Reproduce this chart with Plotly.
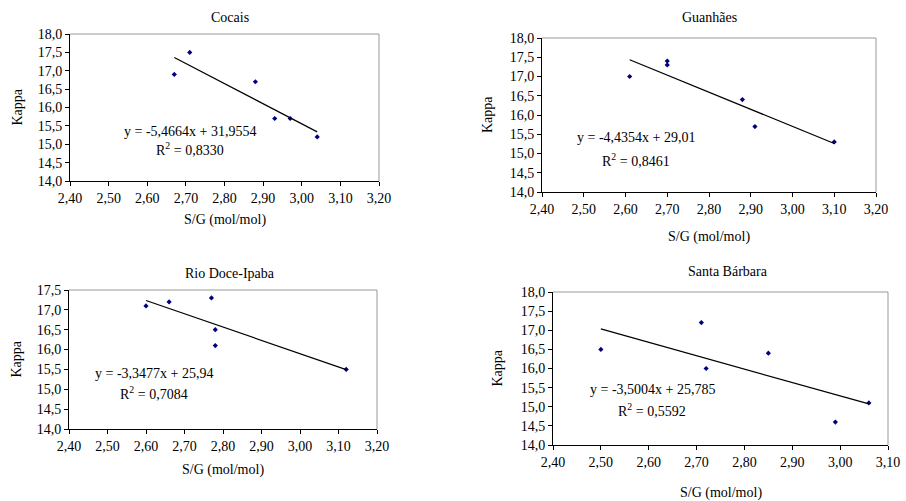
import plotly.graph_objects as go

# S/G ratio (mol/mol) and kappa number per site
cocais_sg = [2.67, 2.71, 2.88, 2.93, 2.97, 3.04]
cocais_kappa = [16.9, 17.5, 16.7, 15.7, 15.7, 15.2]

guanhaes_sg = [2.61, 2.70, 2.70, 2.88, 2.91, 3.10]
guanhaes_kappa = [17.0, 17.4, 17.3, 16.4, 15.7, 15.3]

riodoce_sg = [2.60, 2.66, 2.77, 2.78, 2.78, 3.12]
riodoce_kappa = [17.1, 17.2, 17.3, 16.5, 16.1, 15.5]

santa_sg = [2.50, 2.71, 2.72, 2.85, 2.99, 3.06]
santa_kappa = [16.5, 17.2, 16.0, 16.4, 14.6, 15.1]

site_names = ["Cocais", "Guanhães", "Rio Doce-Ipaba", "Santa Bárbara"]

# linear trend coefficients (slope, intercept) and R²
slopes = [-5.4664, -4.4354, -3.3477, -3.5004]
intercepts = [31.9554, 29.01, 25.94, 25.785]
r_squared = ["0,8330", "0,8461", "0,7084", "0,5592"]
slope_txt = ["-5,4664", "-4,4354", "-3,3477", "-3,5004"]
intercept_txt = ["31,9554", "29,01", "25,94", "25,785"]

x_ranges = [[2.40, 3.20], [2.40, 3.20], [2.40, 3.20], [2.40, 3.10]]
y_ranges = [[14.0, 18.0], [14.0, 18.0], [14.0, 17.5], [14.0, 18.0]]

sg_sets = [cocais_sg, guanhaes_sg, riodoce_sg, santa_sg]
kappa_sets = [cocais_kappa, guanhaes_kappa, riodoce_kappa, santa_kappa]

W, H = 906, 501
# panel boxes in pixels: left, right, top, bottom
boxes = [(70, 379, 34, 181), (542, 876, 38, 192), (69, 377, 290, 429), (553, 888, 292, 445)]
# text anchor positions in pixels
title_pos = [(230, 17), (709, 18), (230, 273), (728, 271)]
xtitle_y = [220, 237, 470, 493]
ytitle_x = [17, 488, 16, 497]
eq_pos = [(190, 131, 149), (636, 138, 160), (154, 373, 393), (652, 389, 410)]

FONT = "Liberation Serif, Times New Roman, serif"
TXT = dict(family=FONT, size=14, color="black")
fig = go.Figure()
annotations = []
shapes = []

def px_x(v):
    return v / W

def px_y(v):
    return 1 - v / H

def label(text, x, y, angle=0):
    annotations.append(dict(text=text, x=px_x(x), y=px_y(y), xref="paper", yref="paper",
                            xanchor="center", yanchor="middle", textangle=angle,
                            showarrow=False, font=TXT))

for i in range(4):
    xa = "x" if i == 0 else f"x{i+1}"
    ya = "y" if i == 0 else f"y{i+1}"
    xs, ks = sg_sets[i], kappa_sets[i]

    fig.add_trace(go.Scatter(
        x=xs, y=ks, mode="markers", xaxis=xa, yaxis=ya,
        marker=dict(symbol="diamond", size=4, color="#000080"),
        showlegend=False, cliponaxis=False,
    ))
    x0, x1 = min(xs), max(xs)
    fig.add_trace(go.Scatter(
        x=[x0, x1], y=[slopes[i] * x0 + intercepts[i], slopes[i] * x1 + intercepts[i]],
        mode="lines", xaxis=xa, yaxis=ya,
        line=dict(color="black", width=1.2), showlegend=False,
    ))

    l, r, t, b = boxes[i]
    axis_common = dict(
        showgrid=False, zeroline=False, showline=True, linecolor="black", linewidth=1,
        ticks="outside", ticklen=4, tickcolor="black", tickwidth=1, tickfont=TXT,
        automargin=False,
    )
    fig.update_layout(**{
        ("xaxis" if i == 0 else f"xaxis{i+1}"): dict(
            domain=[px_x(l), px_x(r)], range=x_ranges[i], dtick=0.1, tick0=2.4,
            tickformat=".2f", anchor=ya, **axis_common),
        ("yaxis" if i == 0 else f"yaxis{i+1}"): dict(
            domain=[px_y(b), px_y(t)], range=y_ranges[i], dtick=0.5, tick0=14,
            tickformat=".1f", anchor=xa, **axis_common),
    })
    # gray frame on top and right of the plot area
    dx = "x domain" if i == 0 else f"x{i+1} domain"
    dy = "y domain" if i == 0 else f"y{i+1} domain"
    shapes.append(dict(type="line", xref=dx, yref=dy, x0=0, x1=1, y0=1, y1=1,
                       line=dict(color="#999999", width=1)))
    shapes.append(dict(type="line", xref=dx, yref=dy, x0=1, x1=1, y0=0, y1=1,
                       line=dict(color="#999999", width=1)))

    tx, ty = title_pos[i]
    label(site_names[i], tx, ty)
    label("S/G (mol/mol)", (l + r) / 2, xtitle_y[i])
    label("Kappa", ytitle_x[i], (t + b) / 2, angle=-90)
    ex, ey1, ey2 = eq_pos[i]
    label(f"y = {slope_txt[i]}x + {intercept_txt[i]}", ex, ey1)
    label(f"R<sup>2</sup> = {r_squared[i]}", ex, ey2)

fig.update_layout(
    width=W, height=H, margin=dict(l=0, r=0, t=0, b=0, autoexpand=False),
    paper_bgcolor="white", plot_bgcolor="white",
    separators=",.", annotations=annotations, shapes=shapes,
)

fig.write_html("out.html")
